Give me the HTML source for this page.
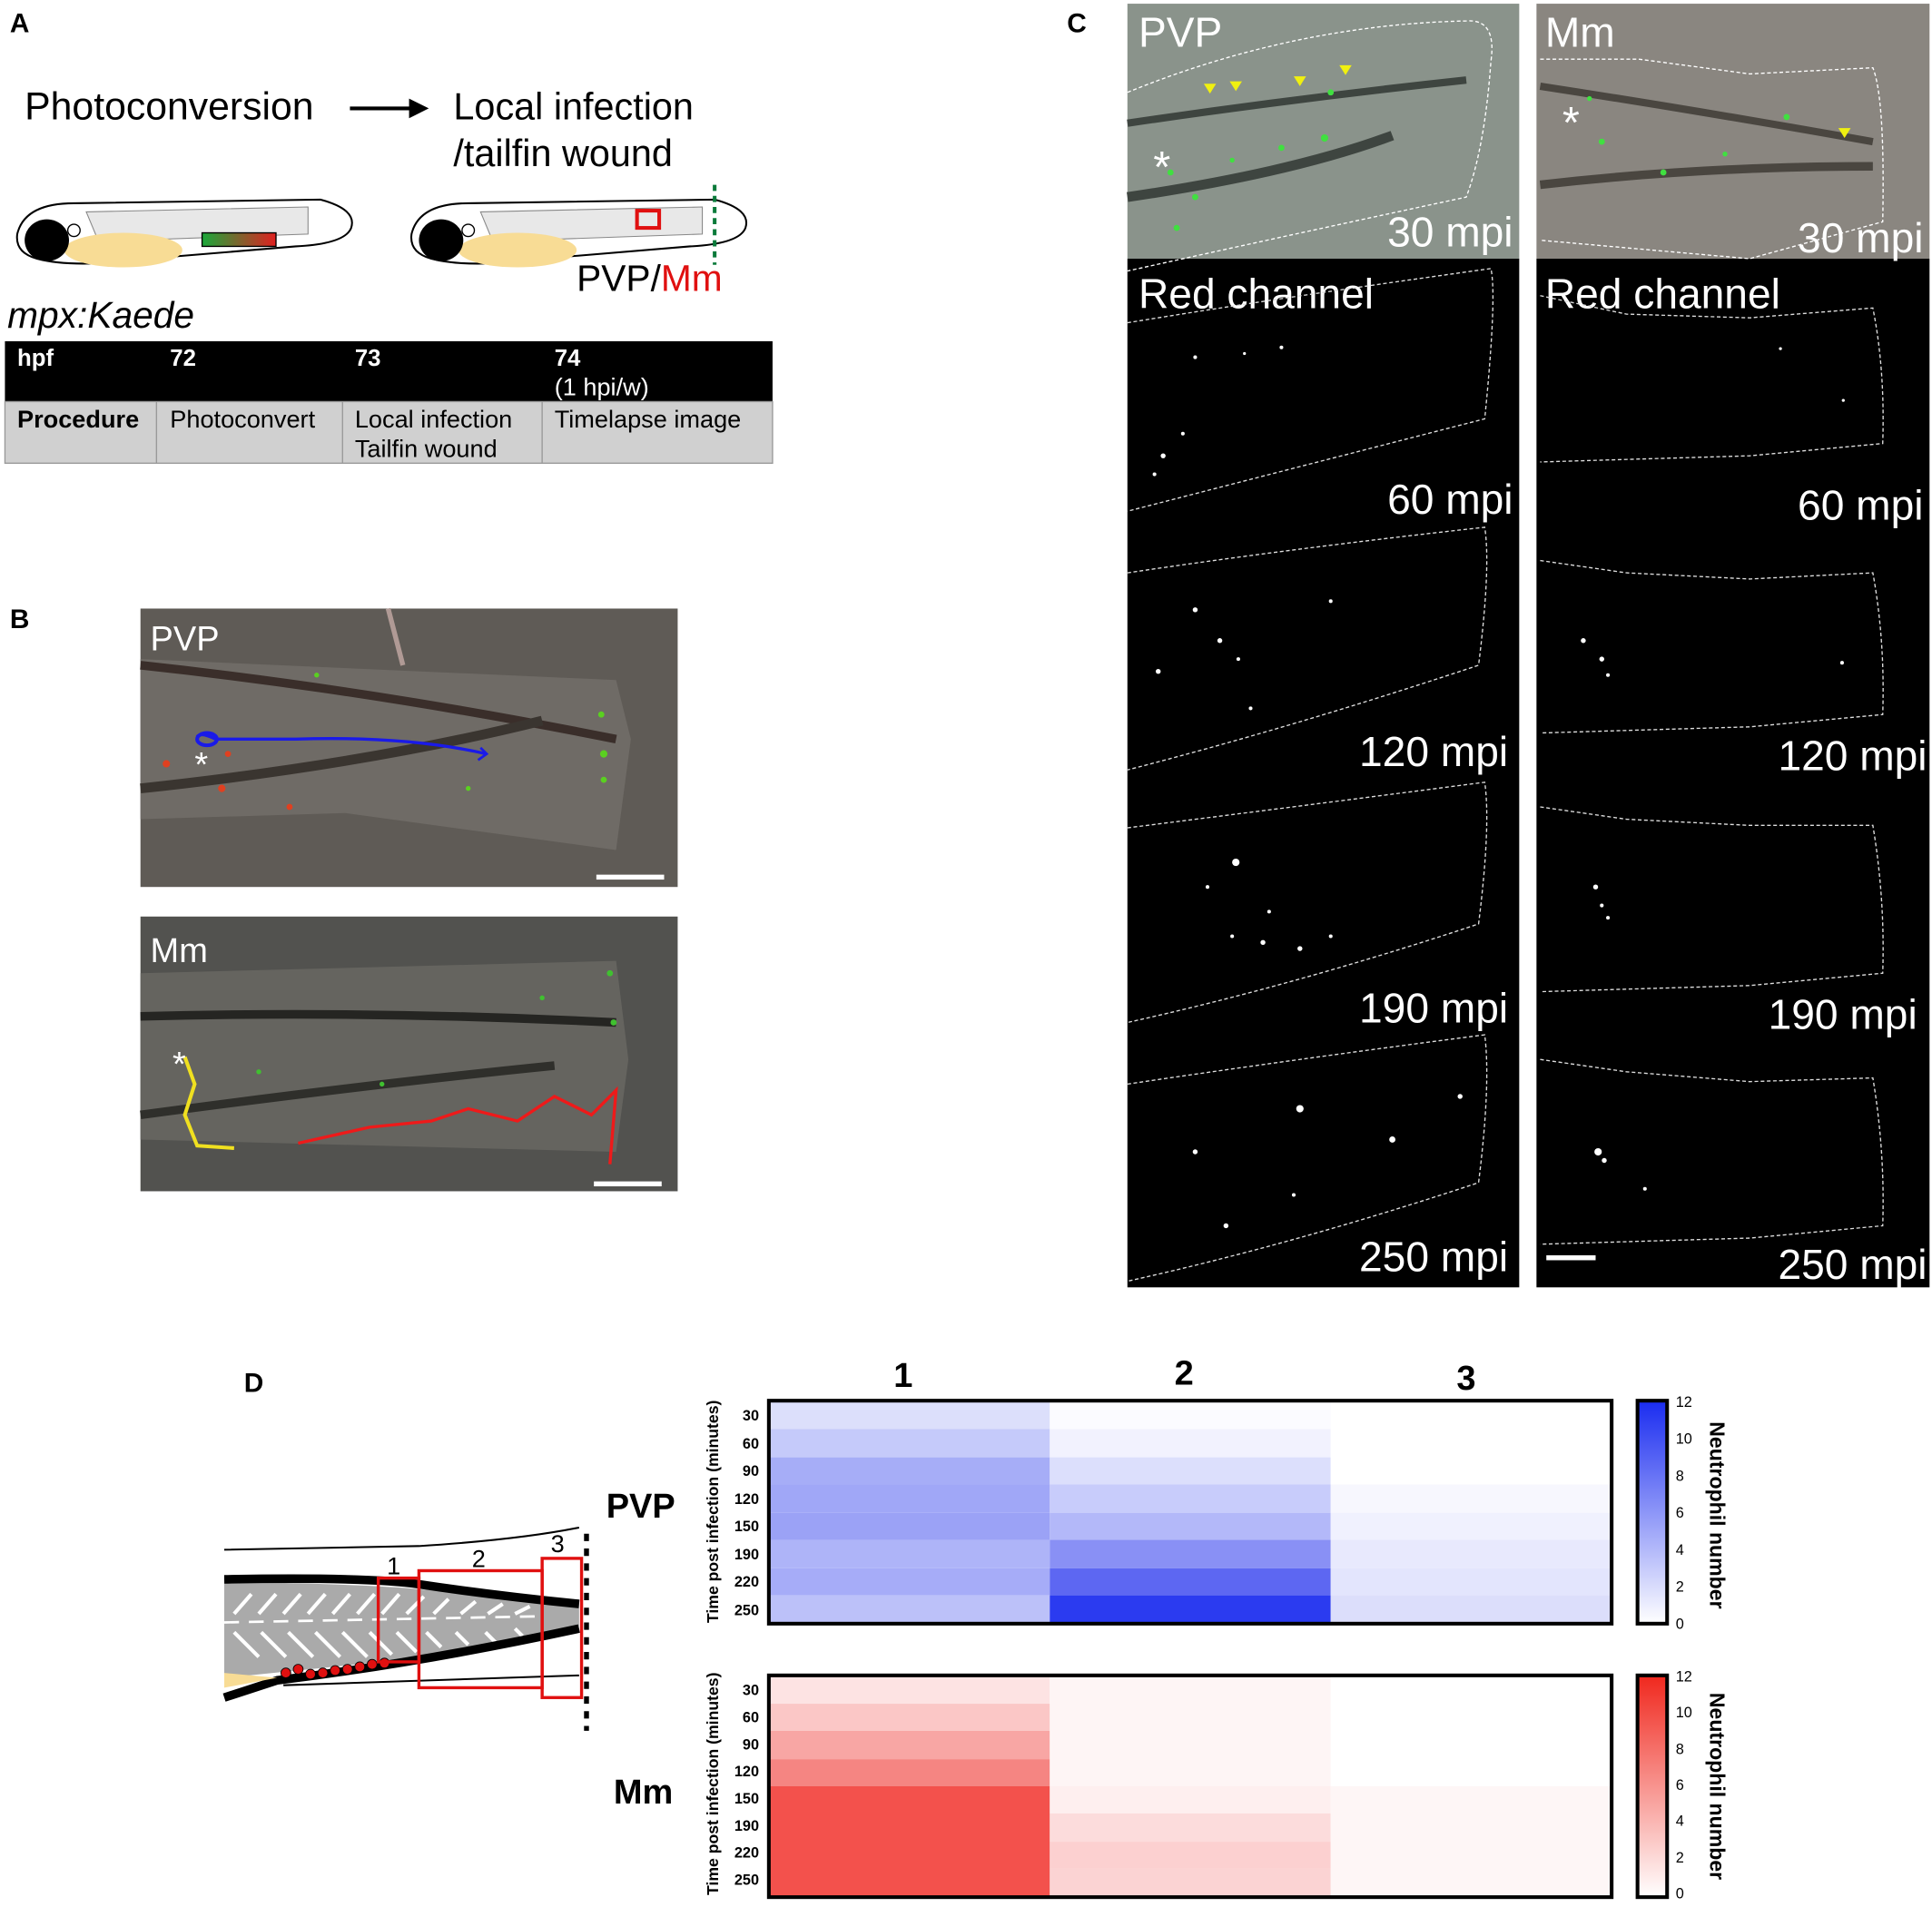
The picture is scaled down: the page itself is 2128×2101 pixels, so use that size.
<!DOCTYPE html>
<html><head><meta charset="utf-8"><style>
html,body{margin:0;padding:0;background:#fff;}
svg{display:block;}
text{font-family:"Liberation Sans",sans-serif;}
</style></head><body>
<svg width="2128" height="2101" viewBox="0 0 1568 1548" preserveAspectRatio="none" xmlns="http://www.w3.org/2000/svg">
<rect width="1568" height="1548" fill="#fff"/>
<!-- Panel A -->
<text x="8" y="26" font-size="22" font-weight="bold">A</text>
<text x="20" y="97" font-size="31.5">Photoconversion</text>
<line x1="284" y1="88" x2="336" y2="88" stroke="#000" stroke-width="3"/>
<polygon points="348,88 332,80 332,96" fill="#000"/>
<text x="368" y="97" font-size="30.5">Local infection</text>
<text x="368" y="135" font-size="30.5">/tailfin wound</text>
<!-- fish left -->
<g>
<path d="M14,190 Q20,165 60,165 L260,162 Q290,170 285,185 Q280,198 240,200 L120,210 Q60,218 30,210 Q12,205 14,190Z" fill="#fff" stroke="#000" stroke-width="1.5"/>
<path d="M70,172 L250,168 L250,190 L80,196Z" fill="#e8e8e8" stroke="#888" stroke-width="0.8"/>
<ellipse cx="100" cy="203" rx="48" ry="14" fill="#f8dc95"/>
<ellipse cx="38" cy="195" rx="18" ry="17" fill="#000"/>
<circle cx="60" cy="187" r="5" fill="#fff" stroke="#000"/>
<defs><linearGradient id="gr" x1="0" x2="1"><stop offset="0" stop-color="#1aa83a"/><stop offset="1" stop-color="#e02020"/></linearGradient></defs>
<rect x="164" y="189" width="60" height="11" fill="url(#gr)" stroke="#000" stroke-width="1"/>
</g>
<g transform="translate(320,0)">
<path d="M14,190 Q20,165 60,165 L260,162 Q290,170 285,185 Q280,198 240,200 L120,210 Q60,218 30,210 Q12,205 14,190Z" fill="#fff" stroke="#000" stroke-width="1.5"/>
<path d="M70,172 L250,168 L250,190 L80,196Z" fill="#e8e8e8" stroke="#888" stroke-width="0.8"/>
<ellipse cx="100" cy="203" rx="48" ry="14" fill="#f8dc95"/>
<ellipse cx="38" cy="195" rx="18" ry="17" fill="#000"/>
<circle cx="60" cy="187" r="5" fill="#fff" stroke="#000"/>
<rect x="197" y="171" width="18" height="14" fill="none" stroke="#e01010" stroke-width="3"/>
<line x1="260" y1="150" x2="260" y2="215" stroke="#0a7a3a" stroke-width="3" stroke-dasharray="5,4"/>
</g>
<text x="468" y="236" font-size="30">PVP/<tspan fill="#e01010">Mm</tspan></text>
<text x="6" y="266" font-size="30" font-style="italic">mpx:Kaede</text>
<rect x="4" y="277" width="623" height="49" fill="#000"/>
<rect x="4" y="326" width="623" height="50" fill="#d0d0d0" stroke="#999" stroke-width="1"/>
<g stroke="#999" stroke-width="1"><line x1="127" y1="326" x2="127" y2="376"/><line x1="278" y1="326" x2="278" y2="376"/><line x1="440" y1="326" x2="440" y2="376"/></g>
<g fill="#fff" font-size="19" font-weight="bold"><text x="14" y="297">hpf</text><text x="138" y="297">72</text><text x="288" y="297">73</text><text x="450" y="297">74</text></g>
<text x="450" y="321" font-size="20" fill="#fff">(1 hpi/w)</text>
<text x="14" y="347" font-size="20" font-weight="bold">Procedure</text>
<g font-size="20"><text x="138" y="347">Photoconvert</text><text x="288" y="347">Local infection</text><text x="288" y="371">Tailfin wound</text><text x="450" y="347">Timelapse image</text></g>

<!-- Panel B -->
<text x="8" y="510" font-size="22" font-weight="bold">B</text>
<rect x="114" y="494" width="436" height="226" fill="#5f5b56"/>
<path d="M114,535 L500,552 L512,600 L500,690 L280,660 L114,665Z" fill="#6f6b66"/>
<path d="M114,540 Q300,560 500,600" stroke="#3a2e2a" stroke-width="7" fill="none"/>
<path d="M114,640 Q300,620 440,585" stroke="#3a3530" stroke-width="8" fill="none"/>
<line x1="315" y1="494" x2="327" y2="540" stroke="#b09a95" stroke-width="4"/>
<path d="M160,598 Q163,594 175,600 L240,600 Q330,597 395,612" stroke="#1a1ae8" stroke-width="2.5" fill="none"/>
<path d="M390,607 L395,612 L388,617" stroke="#1a1ae8" stroke-width="2" fill="none"/>
<ellipse cx="168" cy="600" rx="8" ry="5" fill="none" stroke="#1a1ae8" stroke-width="3"/>
<text x="158" y="630" font-size="28" fill="#fff">*</text>
<g fill="#e04020"><circle cx="135" cy="620" r="3"/><circle cx="180" cy="640" r="3"/><circle cx="235" cy="655" r="2.5"/><circle cx="185" cy="612" r="2.5"/></g>
<g fill="#5ad020"><circle cx="490" cy="612" r="3"/><circle cx="488" cy="580" r="2.5"/><circle cx="257" cy="548" r="2"/><circle cx="380" cy="640" r="2"/><circle cx="490" cy="633" r="2.5"/></g>
<rect x="484" y="710" width="55" height="4" fill="#fff"/>
<text x="122" y="528" font-size="28" fill="#fff">PVP</text>
<rect x="114" y="744" width="436" height="223" fill="#52524f"/>
<path d="M114,790 L500,780 L510,860 L500,935 L114,925Z" fill="#65645f"/>
<path d="M114,825 Q300,820 500,830" stroke="#252522" stroke-width="7" fill="none"/>
<path d="M114,905 Q300,880 450,865" stroke="#2f2f2b" stroke-width="7" fill="none"/>
<path d="M150,858 L158,880 L150,905 L160,930 L190,932" stroke="#f0e020" stroke-width="3" fill="none"/>
<path d="M242,928 L300,915 L350,910 L380,900 L420,910 L450,890 L480,905 L500,885 L495,945" stroke="#ee1a1a" stroke-width="2.5" fill="none"/>
<text x="140" y="873" font-size="28" fill="#fff">*</text>
<g fill="#40c030"><circle cx="495" cy="790" r="2.5"/><circle cx="440" cy="810" r="2"/><circle cx="310" cy="880" r="2"/><circle cx="210" cy="870" r="2"/><circle cx="498" cy="830" r="2.5"/></g>
<rect x="482" y="959" width="55" height="4" fill="#fff"/>
<text x="122" y="781" font-size="28" fill="#fff">Mm</text>

<!-- Panel C -->
<text x="866" y="26" font-size="22" font-weight="bold">C</text>
<rect x="915" y="3" width="318" height="207" fill="#8a938b"/>
<rect x="1247" y="3" width="319" height="207" fill="#8a8680"/>
<rect x="915" y="210" width="318" height="835" fill="#000"/>
<rect x="1247" y="210" width="319" height="835" fill="#000"/>
<path d="M915,75 Q1050,20 1190,17 Q1215,15 1210,50 Q1205,120 1190,160 Q1050,190 915,220" stroke="#fff" stroke-width="1" stroke-dasharray="3,2" fill="none"/>
<path d="M1250,48 L1330,48 L1420,60 L1520,55 Q1530,80 1528,180 L1420,210 L1250,195" stroke="#fff" stroke-width="1" stroke-dasharray="3,2" fill="none"/>
<path d="M915,100 Q1050,80 1190,65" stroke="#3e4540" stroke-width="6" fill="none"/>
<path d="M915,160 Q1050,140 1130,110" stroke="#3e4540" stroke-width="8" fill="none"/>
<path d="M1250,70 Q1380,90 1520,115" stroke="#4a4640" stroke-width="6" fill="none"/>
<path d="M1250,150 Q1380,135 1520,135" stroke="#4a4640" stroke-width="7" fill="none"/>
<g fill="#40e040"><circle cx="950" cy="140" r="2.5"/><circle cx="970" cy="160" r="2.5"/><circle cx="1000" cy="130" r="2"/><circle cx="1040" cy="120" r="2.5"/><circle cx="1075" cy="112" r="3"/><circle cx="955" cy="185" r="2.5"/><circle cx="1080" cy="75" r="2.5"/><circle cx="1300" cy="115" r="2.5"/><circle cx="1350" cy="140" r="2.5"/><circle cx="1400" cy="125" r="2"/><circle cx="1450" cy="95" r="2.5"/><circle cx="1290" cy="80" r="2"/></g>
<g fill="#f0f010"><polygon points="977,68 987,68 982,76"/><polygon points="998,66 1008,66 1003,74"/><polygon points="1050,62 1060,62 1055,70"/><polygon points="1087,53 1097,53 1092,61"/><polygon points="1492,104 1502,104 1497,112"/></g>
<text x="936" y="148" font-size="36" fill="#fff">*</text>
<text x="1268" y="112" font-size="36" fill="#fff">*</text>
<text x="924" y="38" font-size="34" fill="#fff">PVP</text>
<text x="1254" y="38" font-size="34" fill="#fff">Mm</text>
<g font-size="34" fill="#fff" text-anchor="end">
<text x="1228" y="200">30 mpi</text><text x="1561" y="205">30 mpi</text>
<text x="1228" y="417">60 mpi</text><text x="1561" y="422">60 mpi</text>
<text x="1224" y="622">120 mpi</text><text x="1564" y="625">120 mpi</text>
<text x="1224" y="830">190 mpi</text><text x="1556" y="835">190 mpi</text>
<text x="1224" y="1032">250 mpi</text><text x="1564" y="1038">250 mpi</text>
</g>
<text x="924" y="250" font-size="34" fill="#fff">Red channel</text>
<text x="1254" y="250" font-size="34" fill="#fff">Red channel</text>
<g stroke="#ddd" stroke-width="1" stroke-dasharray="3,2" fill="none">
<path d="M915,262 Q1050,240 1210,218 Q1215,240 1205,340 Q1050,380 915,415"/>
<path d="M915,465 Q1050,445 1205,428 Q1210,460 1200,540 Q1050,590 915,625"/>
<path d="M915,672 Q1050,655 1205,635 Q1210,670 1200,750 Q1050,800 915,830"/>
<path d="M915,880 Q1050,860 1205,840 Q1210,880 1200,960 Q1050,1010 915,1040"/>
<path d="M1250,240 L1320,255 L1420,258 L1520,250 Q1530,300 1528,360 L1420,370 L1250,375"/>
<path d="M1250,455 L1320,465 L1420,470 L1520,465 Q1530,520 1528,580 L1420,590 L1250,595"/>
<path d="M1250,655 L1320,665 L1420,670 L1520,670 Q1530,730 1528,790 L1420,800 L1250,805"/>
<path d="M1250,860 L1320,870 L1420,878 L1520,875 Q1530,935 1528,995 L1420,1005 L1250,1010"/>
</g>
<g fill="#fff">
<circle cx="970" cy="290" r="1.5"/><circle cx="1040" cy="282" r="1.5"/><circle cx="1010" cy="287" r="1.2"/><circle cx="944" cy="370" r="2"/><circle cx="937" cy="385" r="1.5"/><circle cx="960" cy="352" r="1.5"/>
<circle cx="970" cy="495" r="2"/><circle cx="990" cy="520" r="2"/><circle cx="1005" cy="535" r="1.5"/><circle cx="1080" cy="488" r="1.5"/><circle cx="940" cy="545" r="2"/><circle cx="1015" cy="575" r="1.5"/>
<circle cx="1003" cy="700" r="3"/><circle cx="980" cy="720" r="1.5"/><circle cx="1030" cy="740" r="1.5"/><circle cx="1000" cy="760" r="1.5"/><circle cx="1055" cy="770" r="2"/><circle cx="1080" cy="760" r="1.5"/><circle cx="1025" cy="765" r="2"/>
<circle cx="1055" cy="900" r="3"/><circle cx="1130" cy="925" r="2.5"/><circle cx="1185" cy="890" r="2"/><circle cx="995" cy="995" r="2"/><circle cx="970" cy="935" r="2"/><circle cx="1050" cy="970" r="1.5"/>
<circle cx="1445" cy="283" r="1.2"/><circle cx="1496" cy="325" r="1.2"/>
<circle cx="1285" cy="520" r="2"/><circle cx="1300" cy="535" r="2"/><circle cx="1305" cy="548" r="1.5"/><circle cx="1495" cy="538" r="1.5"/>
<circle cx="1295" cy="720" r="2"/><circle cx="1300" cy="735" r="1.5"/><circle cx="1305" cy="745" r="1.5"/>
<circle cx="1297" cy="935" r="3"/><circle cx="1302" cy="942" r="2"/><circle cx="1335" cy="965" r="1.5"/>
</g>
<rect x="1255" y="1019" width="40" height="4" fill="#fff"/>

<!-- Panel D -->
<text x="198" y="1130" font-size="22" font-weight="bold">D</text>
<!-- schematic -->
<defs>
<clipPath id="fc"><path d="M182,1288 L300,1290 Q400,1295 470,1302 L470,1320 Q380,1338 300,1350 L182,1362Z"/></clipPath>
</defs>
<g>
<path d="M182,1284 Q300,1286 340,1290 Q400,1295 470,1302 L470,1320 Q380,1338 300,1350 L182,1362Z" fill="#aaa"/>
<g clip-path="url(#fc)" stroke="#fff" stroke-width="3">
<line x1="190" y1="1310" x2="204" y2="1294"/><line x1="210" y1="1310" x2="224" y2="1294"/><line x1="230" y1="1310" x2="244" y2="1294"/><line x1="250" y1="1310" x2="264" y2="1294"/><line x1="270" y1="1310" x2="284" y2="1294"/><line x1="290" y1="1310" x2="304" y2="1294"/><line x1="310" y1="1310" x2="324" y2="1294"/><line x1="330" y1="1310" x2="344" y2="1296"/><line x1="352" y1="1310" x2="364" y2="1298"/><line x1="374" y1="1310" x2="386" y2="1300"/><line x1="396" y1="1310" x2="408" y2="1302"/><line x1="418" y1="1310" x2="430" y2="1304"/>
<line x1="190" y1="1325" x2="210" y2="1345"/><line x1="212" y1="1325" x2="232" y2="1345"/><line x1="234" y1="1325" x2="254" y2="1345"/><line x1="256" y1="1325" x2="276" y2="1345"/><line x1="278" y1="1325" x2="298" y2="1345"/><line x1="300" y1="1325" x2="318" y2="1343"/><line x1="322" y1="1325" x2="338" y2="1341"/><line x1="346" y1="1325" x2="358" y2="1337"/><line x1="370" y1="1325" x2="380" y2="1335"/><line x1="394" y1="1325" x2="402" y2="1333"/><line x1="418" y1="1322" x2="424" y2="1328"/>
<line x1="182" y1="1317" x2="440" y2="1312" stroke-dasharray="12,8" stroke-width="2"/>
</g>
<path d="M182,1258 Q300,1256 340,1255 Q420,1250 470,1240" stroke="#000" stroke-width="1.5" fill="none"/>
<path d="M182,1282 Q300,1280 340,1286 Q400,1295 470,1302" stroke="#000" stroke-width="7" fill="none"/>
<path d="M182,1378 L225,1364 Q340,1350 470,1322" stroke="#000" stroke-width="7" fill="none"/>
<path d="M230,1368 Q340,1364 470,1360" stroke="#000" stroke-width="1.5" fill="none"/>
<path d="M182,1358 L225,1362 L182,1370Z" fill="#f8dc95"/>
<g fill="#e01010" stroke="#000" stroke-width="0.6"><circle cx="232" cy="1358" r="4"/><circle cx="242" cy="1355" r="4"/><circle cx="252" cy="1359" r="4"/><circle cx="262" cy="1358" r="4"/><circle cx="272" cy="1356" r="4"/><circle cx="282" cy="1355" r="4"/><circle cx="292" cy="1353" r="4"/><circle cx="302" cy="1351" r="4"/><circle cx="312" cy="1350" r="4"/></g>
<rect x="307" y="1281" width="33" height="68" fill="none" stroke="#e01010" stroke-width="2.5"/>
<rect x="340" y="1275" width="100" height="95" fill="none" stroke="#e01010" stroke-width="2.5"/>
<rect x="440" y="1265" width="32" height="113" fill="none" stroke="#e01010" stroke-width="2.5"/>
<line x1="476" y1="1245" x2="476" y2="1405" stroke="#000" stroke-width="4" stroke-dasharray="6,6"/>
<g font-size="20"><text x="314" y="1278">1</text><text x="383" y="1272">2</text><text x="447" y="1260">3</text></g>
</g>
<text x="492" y="1232" font-size="28" font-weight="bold">PVP</text>
<text x="498" y="1464" font-size="28" font-weight="bold">Mm</text>
<g font-size="28" font-weight="bold" text-anchor="middle"><text x="733" y="1126">1</text><text x="961" y="1124">2</text><text x="1190" y="1128">3</text></g>
<!-- PVP heatmap -->
<g>
<rect x="624" y="1137" width="228" height="23" fill="#dcdffb"/><rect x="624" y="1160" width="228" height="23" fill="#c5cafa"/><rect x="624" y="1183" width="228" height="22" fill="#a6adf7"/><rect x="624" y="1205" width="228" height="23" fill="#a0a7f7"/><rect x="624" y="1228" width="228" height="22" fill="#9ba2f6"/><rect x="624" y="1250" width="228" height="23" fill="#aeb4f8"/><rect x="624" y="1273" width="228" height="22" fill="#a6acf8"/><rect x="624" y="1295" width="228" height="23" fill="#bcc1f9"/>
<rect x="852" y="1137" width="228" height="23" fill="#fbfbff"/><rect x="852" y="1160" width="228" height="23" fill="#f2f2fe"/><rect x="852" y="1183" width="228" height="22" fill="#dcdffc"/><rect x="852" y="1205" width="228" height="23" fill="#c8ccfb"/><rect x="852" y="1228" width="228" height="22" fill="#b3b8f9"/><rect x="852" y="1250" width="228" height="23" fill="#8990f5"/><rect x="852" y="1273" width="228" height="22" fill="#5d67f2"/><rect x="852" y="1295" width="228" height="23" fill="#2b3bf0"/>
<rect x="1080" y="1137" width="228" height="68" fill="#fff"/><rect x="1080" y="1205" width="228" height="23" fill="#f7f7fe"/><rect x="1080" y="1228" width="228" height="22" fill="#f0f1fe"/><rect x="1080" y="1250" width="228" height="23" fill="#e8e9fd"/><rect x="1080" y="1273" width="228" height="22" fill="#e3e5fd"/><rect x="1080" y="1295" width="228" height="23" fill="#dcdefb"/>
<rect x="624" y="1137" width="684" height="181" fill="none" stroke="#000" stroke-width="3"/>
</g>
<!-- Mm heatmap -->
<g>
<rect x="624" y="1360" width="228" height="23" fill="#fde3e3"/><rect x="624" y="1383" width="228" height="22" fill="#fbc7c6"/><rect x="624" y="1405" width="228" height="23" fill="#f8a6a4"/><rect x="624" y="1428" width="228" height="22" fill="#f58582"/><rect x="624" y="1450" width="228" height="90" fill="#f3514c"/>
<rect x="852" y="1360" width="228" height="90" fill="#fef5f5"/><rect x="852" y="1450" width="228" height="22" fill="#feefef"/><rect x="852" y="1472" width="228" height="23" fill="#fcdcdc"/><rect x="852" y="1495" width="228" height="22" fill="#fcd0d0"/><rect x="852" y="1517" width="228" height="23" fill="#fbd3d3"/>
<rect x="1080" y="1360" width="228" height="90" fill="#fff"/><rect x="1080" y="1450" width="228" height="90" fill="#fef6f6"/>
<rect x="624" y="1360" width="684" height="180" fill="none" stroke="#000" stroke-width="3"/>
</g>
<g font-size="12" font-weight="bold" text-anchor="end">
<text x="616" y="1153">30</text><text x="616" y="1176">60</text><text x="616" y="1198">90</text><text x="616" y="1221">120</text><text x="616" y="1243">150</text><text x="616" y="1266">190</text><text x="616" y="1288">220</text><text x="616" y="1311">250</text>
<text x="616" y="1376">30</text><text x="616" y="1398">60</text><text x="616" y="1420">90</text><text x="616" y="1442">120</text><text x="616" y="1464">150</text><text x="616" y="1486">190</text><text x="616" y="1508">220</text><text x="616" y="1530">250</text>
</g>
<text transform="translate(583,1227) rotate(-90)" font-size="13" font-weight="bold" text-anchor="middle">Time post infection (minutes)</text>
<text transform="translate(583,1448) rotate(-90)" font-size="13" font-weight="bold" text-anchor="middle">Time post infection (minutes)</text>
<defs>
<linearGradient id="bl" x1="0" y1="1" x2="0" y2="0"><stop offset="0" stop-color="#fff"/><stop offset="1" stop-color="#1a2cf0"/></linearGradient>
<linearGradient id="rd" x1="0" y1="1" x2="0" y2="0"><stop offset="0" stop-color="#fff"/><stop offset="1" stop-color="#f0281e"/></linearGradient>
</defs>
<rect x="1329" y="1137" width="24" height="181" fill="url(#bl)" stroke="#000" stroke-width="3"/>
<rect x="1329" y="1360" width="24" height="180" fill="url(#rd)" stroke="#000" stroke-width="3"/>
<g font-size="12">
<text x="1360" y="1142">12</text><text x="1360" y="1172">10</text><text x="1360" y="1202">8</text><text x="1360" y="1232">6</text><text x="1360" y="1262">4</text><text x="1360" y="1292">2</text><text x="1360" y="1322">0</text>
<text x="1360" y="1365">12</text><text x="1360" y="1394">10</text><text x="1360" y="1424">8</text><text x="1360" y="1453">6</text><text x="1360" y="1482">4</text><text x="1360" y="1512">2</text><text x="1360" y="1541">0</text>
</g>
<text transform="translate(1388,1230) rotate(90)" font-size="17" font-weight="bold" text-anchor="middle">Neutrophil number</text>
<text transform="translate(1388,1450) rotate(90)" font-size="17" font-weight="bold" text-anchor="middle">Neutrophil number</text>
</svg>
</body></html>
